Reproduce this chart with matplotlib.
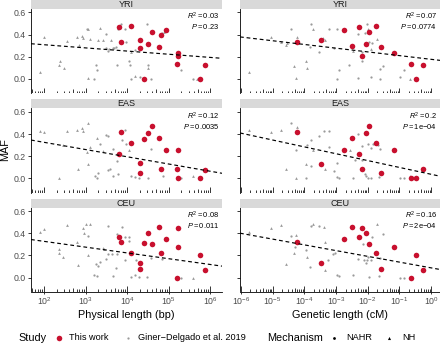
import numpy as np
import matplotlib.pyplot as plt

plt.rcParams['font.family'] = ['Liberation Sans', 'DejaVu Sans']
plt.rcParams['mathtext.fontset'] = 'custom'
plt.rcParams['mathtext.rm'] = 'Liberation Sans'
plt.rcParams['mathtext.it'] = 'Liberation Sans:italic'
plt.rcParams['mathtext.bf'] = 'Liberation Sans:bold'

# ---- data (lengths stored as log10 values, MAF as read) ----
pops = ['YRI', 'EAS', 'CEU']

# Giner-Delgado et al. 2019, physical length (log10 bp)
yri_phys_gray_x = [1.90, 2.00, 2.38, 2.36, 2.47, 2.54, 2.78, 2.84, 2.90, 2.94, 3.02, 3.06, 3.10, 3.05,
                   3.20, 3.24, 3.28, 3.30, 3.34, 3.41, 3.48, 3.49, 3.53, 3.57, 3.60, 3.65, 3.68, 3.73,
                   3.77, 3.76, 3.85, 3.94, 3.97, 4.05, 4.07, 4.08, 4.08, 4.19, 4.19, 4.31, 4.48, 4.49,
                   4.50, 4.56, 4.84, 4.88, 5.29, 5.59, 5.67]
yri_phys_gray_maf = [0.063, 0.375, 0.165, 0.123, 0.099, 0.339, 0.378, 0.309, 0.387, 0.369, 0.453, 0.453,
                     0.36, 0.009, 0.0, 0.129, 0.078, 0.351, 0.459, 0.348, 0.408, 0.279, 0.249, 0.273,
                     0.348, 0.279, 0.279, 0.285, 0.45, 0.123, 0.495, 0.45, 0.33, 0.159, 0.126, 0.246,
                     0.0, 0.258, 0.024, 0.018, 0.495, 0.129, 0.099, 0.0, 0.414, 0.42, 0.084, 0.0, 0.0]
yri_phys_gray_mech = ['NH'] * 10 + ['NAHR', 'NH', 'NH', 'NH', 'NAHR', 'NAHR', 'NAHR', 'NH', 'NH', 'NH',
                      'NAHR', 'NAHR', 'NAHR', 'NAHR', 'NH'] + ['NAHR'] * 10 + \
                     ['NH', 'NAHR', 'NAHR', 'NH', 'NAHR', 'NAHR', 'NAHR', 'NH', 'NAHR', 'NAHR', 'NH',
                      'NAHR', 'NAHR', 'NH']

eas_phys_gray_x = [1.90, 2.00, 2.36, 2.46, 2.55, 2.79, 2.80, 2.90, 2.94, 3.06, 3.04, 3.06, 3.10, 3.21,
                   3.28, 3.30, 3.26, 3.34, 3.41, 3.49, 3.54, 3.53, 3.58, 3.65, 3.66, 3.76, 3.78, 3.86,
                   3.94, 3.97, 4.05, 4.08, 4.19, 4.27, 4.49, 4.56, 4.85, 5.29, 5.59]
eas_phys_gray_maf = [0.43, 0.42, 0.0, 0.30, 0.43, 0.435, 0.084, 0.455, 0.43, 0.50, 0.234, 0.131, 0.282,
                     0.018, 0.0, 0.045, 0.36, 0.311, 0.243, 0.392, 0.378, 0.072, 0.087, 0.267, 0.018,
                     0.153, 0.042, 0.342, 0.432, 0.306, 0.252, 0.021, 0.012, 0.0, 0.0, 0.267, 0.024,
                     0.0, 0.024]
eas_phys_gray_mech = ['NH'] * 13 + ['NAHR', 'NAHR', 'NAHR', 'NH', 'NAHR', 'NH'] + ['NAHR'] * 11 + \
                     ['NH'] + ['NAHR'] * 7 + ['NH']

ceu_phys_gray_x = [1.90, 2.00, 2.36, 2.36, 2.46, 2.54, 2.80, 2.78, 2.94, 2.96, 3.01, 3.10, 3.06, 3.06,
                   3.20, 3.28, 3.25, 3.30, 3.34, 3.41, 3.44, 3.49, 3.53, 3.62, 3.54, 3.66, 3.73, 3.76,
                   3.76, 3.86, 3.94, 3.95, 4.03, 4.05, 4.08, 4.19, 4.21, 4.29, 4.48, 4.56, 4.84, 5.29,
                   5.59]
ceu_phys_gray_maf = [0.412, 0.442, 0.255, 0.224, 0.185, 0.473, 0.115, 0.321, 0.451, 0.405, 0.487, 0.482,
                     0.375, 0.2, 0.027, 0.012, 0.127, 0.103, 0.139, 0.269, 0.255, 0.169, 0.209, 0.209,
                     0.466, 0.018, 0.091, 0.391, 0.209, 0.46, 0.157, 0.364, 0.37, 0.33, 0.003, 0.027,
                     0.157, 0.006, 0.003, 0.178, 0.164, 0.0, 0.0]
ceu_phys_gray_mech = ['NH'] * 12 + ['NAHR', 'NH'] + ['NAHR'] * 5 + ['NH', 'NH'] + ['NAHR'] * 21 + ['NH']

# Giner-Delgado et al. 2019, genetic length (log10 cM)
yri_gen_gray_x = [-5.75, -5.04, -4.73, -4.59, -4.54, -4.41, -4.33, -4.26, -4.22, -3.94, -3.93, -3.81,
                  -3.79, -3.72, -3.54, -3.40, -3.35, -3.23, -3.07, -2.97, -2.98, -2.90, -2.58, -2.47,
                  -2.32, -2.31, -2.19, -2.19, -2.09, -2.03, -1.98, -1.95, -1.87, -1.90, -1.70, -1.89,
                  -1.62, -1.62, -1.53, -0.98, -0.84, -0.66]
yri_gen_gray_maf = [0.063, 0.375, 0.336, 0.309, 0.324, 0.45, 0.12, 0.006, 0.381, 0.165, 0.096, 0.285,
                    0.492, 0.45, 0.246, 0.369, 0.351, 0.447, 0.276, 0.447, 0.0, 0.081, 0.123, 0.255,
                    0.009, 0.405, 0.162, 0.246, 0.417, 0.492, 0.45, 0.336, 0.327, 0.27, 0.36, 0.021,
                    0.0, 0.093, 0.12, 0.015, 0.081, 0.0]
yri_gen_gray_mech = ['NH'] * 5 + ['NAHR'] + ['NH'] * 5 + ['NAHR', 'NAHR', 'NH', 'NAHR', 'NH', 'NH'] + \
                    ['NAHR'] * 6 + ['NH'] + ['NAHR'] * 6 + ['NH', 'NAHR', 'NAHR', 'NH', 'NH'] + \
                    ['NAHR'] * 6 + ['NH']

eas_gen_gray_x = [-5.75, -5.04, -4.73, -4.59, -4.41, -4.26, -4.22, -4.25, -3.95, -3.95, -3.91, -3.80,
                  -3.78, -3.72, -3.53, -3.38, -3.23, -3.34, -3.22, -3.07, -2.98, -2.98, -2.90, -2.56,
                  -2.47, -2.41, -2.31, -2.18, -2.18, -2.09, -2.04, -1.99, -1.90, -1.99, -1.90, -1.84,
                  -1.67, -1.62, -1.65, -0.98, -0.84, -0.66]
eas_gen_gray_maf = [0.432, 0.417, 0.432, 0.084, 0.50, 0.0, 0.459, 0.252, 0.0, 0.131, 0.297, 0.113,
                    0.345, 0.258, 0.378, 0.43, 0.426, 0.081, 0.282, 0.066, 0.138, 0.015, 0.0, 0.255,
                    0.006, 0.168, 0.396, 0.291, 0.162, 0.036, 0.018, 0.0, 0.0, 0.312, 0.276, 0.312,
                    0.30, 0.264, 0.012, 0.0, 0.0, 0.024]
eas_gen_gray_mech = ['NH'] * 4 + ['NAHR', 'NH', 'NH', 'NAHR', 'NAHR', 'NH', 'NAHR', 'NAHR', 'NAHR', 'NH',
                     'NAHR', 'NAHR', 'NAHR', 'NH'] + ['NAHR'] * 5 + ['NH'] + ['NAHR'] * 17 + ['NH']

ceu_gen_gray_x = [-5.75, -5.04, -4.73, -4.59, -4.41, -4.33, -4.25, -4.28, -4.24, -3.95, -3.93, -3.82,
                  -3.79, -3.72, -3.54, -3.38, -3.36, -3.36, -3.24, -3.08, -3.02, -2.98, -2.90, -2.47,
                  -2.30, -2.16, -2.13, -2.05, -2.03, -1.98, -1.97, -1.90, -1.86, -1.70, -1.62, -1.63,
                  -1.53, -0.98, -0.84, -0.66]
ceu_gen_gray_maf = [0.412, 0.445, 0.473, 0.121, 0.375, 0.224, 0.382, 0.278, 0.309, 0.251, 0.187, 0.096,
                    0.466, 0.487, 0.469, 0.455, 0.321, 0.069, 0.157, 0.209, 0.224, 0.027, 0.012, 0.027,
                    0.169, 0.303, 0.163, 0.133, 0.163, 0.187, 0.006, 0.157, 0.37, 0.482, 0.178, 0.018,
                    0.394, 0.0, 0.0, 0.0]
ceu_gen_gray_mech = ['NH'] * 4 + ['NAHR', 'NH', 'NH', 'NAHR', 'NAHR', 'NAHR', 'NH', 'NAHR', 'NAHR', 'NH',
                     'NAHR', 'NH', 'NH', 'NH'] + ['NAHR'] * 15 + ['NH'] + ['NAHR'] * 5 + ['NH']

# This work (all NAHR)
red_phys_x = [3.81, 3.85, 4.09, 4.31, 4.31, 4.40, 4.50, 4.60, 4.76, 4.82, 4.93, 5.20, 5.21, 5.22, 5.76, 5.86]
yri_phys_red_maf = [0.468, 0.336, 0.48, 0.354, 0.279, 0.0, 0.315, 0.423, 0.29, 0.40, 0.438, 0.132,
                    0.204, 0.234, 0.0, 0.129]
eas_phys_red_maf = [0.219, 0.417, 0.32, 0.135, 0.048, 0.354, 0.405, 0.468, 0.363, 0.087, 0.255, 0.087,
                    0.0, 0.252, 0.0, 0.078]
ceu_phys_red_maf = [0.366, 0.318, 0.218, 0.133, 0.082, 0.312, 0.403, 0.305, 0.457, 0.218, 0.348, 0.0,
                    0.448, 0.273, 0.203, 0.064]

red_gen_x = [-4.23, -3.47, -2.75, -2.49, -2.26, -2.19, -2.05, -1.96, -1.74, -1.59, -1.16, -0.62, -0.47, -0.25]
yri_gen_red_maf = [0.336, 0.354, 0.438, 0.294, 0.471, 0.207, 0.315, 0.426, 0.48, 0.285, 0.237, 0.132, 0.0, 0.129]
eas_gen_red_maf = [0.42, 0.131, 0.258, 0.36, 0.219, 0.087, 0.405, 0.468, 0.32, 0.048, 0.252, 0.0, 0.0, 0.081]
ceu_gen_red_maf = [0.321, 0.133, 0.348, 0.457, 0.366, 0.448, 0.405, 0.305, 0.218, 0.082, 0.273, 0.0, 0.203, 0.064]

# regression lines (slope, intercept vs log10 length) and stats
phys_fit = [(-0.0285, 0.365), (-0.065, 0.455), (-0.0523, 0.432)]
gen_fit = [(-0.0334, 0.177), (-0.0616, 0.038), (-0.052, 0.088)]
phys_r2 = ['0.03', '0.12', '0.08']
phys_p = ['0.23', '0.0035', '0.011']
gen_r2 = ['0.07', '0.2', '0.16']
gen_p = ['0.0774', r'\mathrm{1e{-}04}', r'\mathrm{2e{-}04}']

phys_gray = [(yri_phys_gray_x, yri_phys_gray_maf, yri_phys_gray_mech),
             (eas_phys_gray_x, eas_phys_gray_maf, eas_phys_gray_mech),
             (ceu_phys_gray_x, ceu_phys_gray_maf, ceu_phys_gray_mech)]
gen_gray = [(yri_gen_gray_x, yri_gen_gray_maf, yri_gen_gray_mech),
            (eas_gen_gray_x, eas_gen_gray_maf, eas_gen_gray_mech),
            (ceu_gen_gray_x, ceu_gen_gray_maf, ceu_gen_gray_mech)]
phys_red = [yri_phys_red_maf, eas_phys_red_maf, ceu_phys_red_maf]
gen_red = [yri_gen_red_maf, eas_gen_red_maf, ceu_gen_red_maf]

# ---- styling ----
RED = '#c8102e'
GRAY = '#9a9a9a'
STRIP = '#d9d9d9'
W, H = 440, 344

fig = plt.figure(figsize=(4.4, 3.44), dpi=100)


def px_axes(left, top, right, bottom):
    return fig.add_axes([left / W, 1 - bottom / H, (right - left) / W, (bottom - top) / H])


rows = [(8.5, 93), (108, 192.5), (207.5, 291.5)]
col_phys = (31, 222)
col_gen = (240, 440)
phys_xlim = (1.68, 6.28)
gen_xlim = (-6.03, 0.283)


def log_ticks(ax, xlim_log, ph):
    long_x, mid_x, short_x = [], [], []
    for k in range(int(np.floor(xlim_log[0])), int(np.ceil(xlim_log[1])) + 1):
        for m in range(1, 10):
            v = m * 10.0 ** k
            if not (10 ** xlim_log[0] <= v <= 10 ** xlim_log[1]):
                continue
            (long_x if m == 1 else mid_x if m == 5 else short_x).append(v)
    tr = ax.get_xaxis_transform()
    ax.vlines(long_x, 0, 5.5 / ph, transform=tr, color='black', lw=0.55)
    ax.vlines(mid_x, 0, 4.0 / ph, transform=tr, color='black', lw=0.55)
    ax.vlines(short_x, 0, 2.5 / ph, transform=tr, color='black', lw=0.55)


def panel(col, r, xlim_log, gray, red_x, red_maf, fit, r2, p, pop, bottom, ylabels):
    top, bot = rows[r]
    ph = bot - top
    ax = px_axes(col[0], top, col[1], bot)
    sax = px_axes(col[0], top - 9, col[1], top)
    sax.set_facecolor(STRIP)
    sax.set_xticks([])
    sax.set_yticks([])
    for s in sax.spines.values():
        s.set_visible(False)
    sax.text(0.5, 0.45, pop, ha='center', va='center', fontsize=6.5, color='#1a1a1a',
             transform=sax.transAxes)

    gx = 10 ** np.array(gray[0])
    gm = np.array(gray[1])
    nh = np.array(gray[2]) == 'NH'
    ax.scatter(gx[~nh], gm[~nh], s=2.6, c=GRAY, marker='o', linewidths=0, zorder=2)
    ax.scatter(gx[nh], gm[nh], s=4.0, c=GRAY, marker='^', linewidths=0, zorder=2)
    ax.scatter(10 ** np.array(red_x), red_maf, s=16, c=RED, marker='o', linewidths=0, zorder=3)

    xs = np.array(xlim_log)
    ax.plot(10 ** xs, fit[0] * xs + fit[1], ls=(0, (3.2, 2.4)), color='black', lw=0.85, zorder=4)

    ax.set_xscale('log')
    ax.set_xlim(10 ** xlim_log[0], 10 ** xlim_log[1])
    ax.set_ylim(-0.126, 0.634)
    ax.set_facecolor('none')
    for s in ['top', 'right']:
        ax.spines[s].set_visible(False)
    ax.spines['left'].set_linewidth(0.6)
    ax.spines['bottom'].set_linewidth(0.6)
    ax.spines['bottom'].set_visible(bottom)

    ax.set_yticks([0.0, 0.2, 0.4, 0.6])
    ax.tick_params(axis='y', length=2.0, width=0.55, pad=1.5, labelsize=6.3,
                   labelcolor='#4d4d4d', labelleft=ylabels)
    ax.set_yticklabels(['0.0', '0.2', '0.4', '0.6'])
    ax.xaxis.set_minor_locator(plt.NullLocator())
    if bottom:
        decades = list(range(int(np.ceil(xlim_log[0])), int(np.floor(xlim_log[1])) + 1))
        ax.set_xticks([10.0 ** d for d in decades])
        ax.set_xticklabels([r'$10^{%d}$' % d for d in decades])
        ax.tick_params(axis='x', length=1.5, width=0.55, pad=1.5, labelsize=6.3, labelcolor='#4d4d4d')
    else:
        ax.set_xticks([])
    log_ticks(ax, xlim_log, ph)

    xr = 1 - 3.0 / (col[1] - col[0])
    ax.text(xr, 0.905, r'$R^2 = %s$' % r2, ha='right', va='center', fontsize=5.4,
            transform=ax.transAxes, color='black')
    ax.text(xr, 0.785, r'$P = %s$' % p, ha='right', va='center', fontsize=5.4,
            transform=ax.transAxes, color='black')
    return ax


for r, pop in enumerate(pops):
    last = r == 2
    panel(col_phys, r, phys_xlim, phys_gray[r], red_phys_x, phys_red[r], phys_fit[r],
          phys_r2[r], phys_p[r], pop, last, True)
    panel(col_gen, r, gen_xlim, gen_gray[r], red_gen_x, gen_red[r], gen_fit[r],
          gen_r2[r], gen_p[r], pop, last, False)

# axis titles
fig.text(5.5 / W, 1 - 150 / H, 'MAF', rotation=90, ha='center', va='center', fontsize=7.8)
fig.text(126.5 / W, 1 - 315 / H, 'Physical length (bp)', ha='center', va='center', fontsize=7.8)
fig.text(340 / W, 1 - 315 / H, 'Genetic length (cM)', ha='center', va='center', fontsize=7.8)

# legend
lax = fig.add_axes([0, 0, 1, 1])
lax.set_xlim(0, W)
lax.set_ylim(H, 0)
lax.axis('off')
ly = 338
lax.text(18, ly, 'Study', ha='left', va='center', fontsize=7.8)
lax.scatter([59], [ly], s=16, c=RED, linewidths=0)
lax.text(69, ly, 'This work', ha='left', va='center', fontsize=6.6)
lax.scatter([128], [ly], s=2.6, c=GRAY, linewidths=0)
lax.text(138, ly, 'Giner\u2212Delgado et al. 2019', ha='left', va='center', fontsize=6.6)
lax.text(267, ly, 'Mechanism', ha='left', va='center', fontsize=7.8)
lax.scatter([334], [ly], s=4, c='black', marker='o', linewidths=0)
lax.text(346, ly, 'NAHR', ha='left', va='center', fontsize=6.6)
lax.scatter([389], [ly], s=5, c='black', marker='^', linewidths=0)
lax.text(402, ly, 'NH', ha='left', va='center', fontsize=6.6)

fig.savefig('out.png', dpi=100)
